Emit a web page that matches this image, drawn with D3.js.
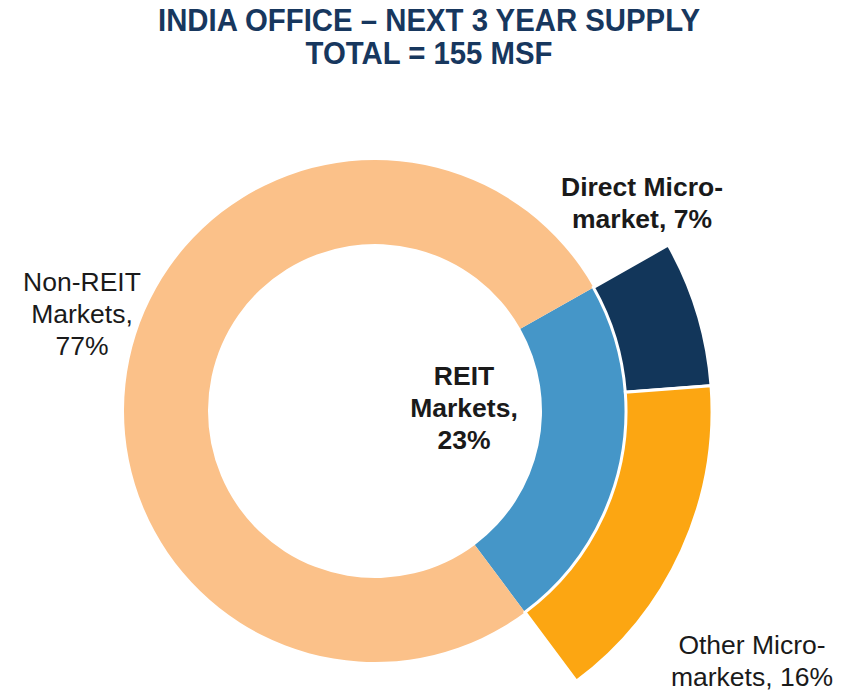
<!DOCTYPE html>
<html>
<head>
<meta charset="utf-8">
<script src="https://cdn.jsdelivr.net/npm/d3@7"></script>
<style>
  body { margin: 0; background: #fff; }
  svg { display: block; }
</style>
</head>
<body>
<script>
// Inner ring: REIT vs non-REIT share of supply
const innerNames = ["REIT Markets", "Non-REIT Markets"];
const innerValues = [23, 77];
const innerColors = ["#4596c8", "#fbc189"];

// Outer ring: split of the REIT share
const outerNames = ["Direct Micro-market", "Other Micro-markets"];
const outerValues = [7, 16];
const outerColors = ["#12365a", "#fca612"];

const titleLines = ["INDIA OFFICE \u2013 NEXT 3 YEAR SUPPLY", "TOTAL = 155 MSF"];
const titleWidths = [542, 247]; // narrow face isn't installed, squeeze to match

const width = 856, height = 692;
const cx = 375, cy = 411;
const rotate = 60.5 * Math.PI / 180;

const svg = d3.select("body")
  .append("svg")
  .attr("width", width)
  .attr("height", height);

// Title
svg.append("text")
  .attr("text-anchor", "middle")
  .attr("fill", "#17375e")
  .style("font-family", "'Liberation Sans Narrow', 'Arial Narrow', 'Liberation Sans', sans-serif")
  .style("font-weight", "bold")
  .style("font-size", "32px")
  .selectAll("tspan")
  .data(titleLines)
  .join("tspan")
  .attr("x", 429)
  .attr("y", (d, i) => 31 + i * 33)
  .attr("textLength", (d, i) => titleWidths[i])
  .attr("lengthAdjust", "spacingAndGlyphs")
  .text(d => d);

const g = svg.append("g").attr("transform", `translate(${cx},${cy})`);

const total = d3.sum(innerValues);

const innerPie = d3.pie().sort(null)
  .startAngle(rotate)
  .endAngle(rotate + 2 * Math.PI);

const innerArc = d3.arc().innerRadius(167).outerRadius(251);

g.selectAll("path.inner")
  .data(innerPie(innerValues))
  .join("path")
  .attr("class", "inner")
  .attr("d", innerArc)
  .attr("fill", (d, i) => innerColors[i]);

// outer ring covers only the REIT slice, same angular scale
const outerPie = d3.pie().sort(null)
  .startAngle(rotate)
  .endAngle(rotate + 2 * Math.PI * d3.sum(outerValues) / total);

const outerArc = d3.arc().innerRadius(251).outerRadius(337);

g.selectAll("path.outer")
  .data(outerPie(outerValues))
  .join("path")
  .attr("class", "outer")
  .attr("d", outerArc)
  .attr("fill", (d, i) => outerColors[i])
  .attr("stroke", "#fff")
  .attr("stroke-width", 3);

// Labels
const labels = [
  { lines: ["Non-REIT", "Markets,", innerValues[1] + "%"], x: 82, y: 291, bold: false },
  { lines: ["REIT", "Markets,", innerValues[0] + "%"], x: 464, y: 385, bold: true },
  { lines: ["Direct Micro-", "market, " + outerValues[0] + "%"], x: 642, y: 196, bold: true },
  { lines: ["Other Micro-", "markets, " + outerValues[1] + "%"], x: 752, y: 654, bold: false }
];

labels.forEach(l => {
  svg.append("text")
    .attr("text-anchor", "middle")
    .attr("fill", "#1a1a1a")
    .style("font-family", "'Liberation Sans', Arial, sans-serif")
    .style("font-size", "26.5px")
    .style("font-weight", l.bold ? "bold" : "normal")
    .selectAll("tspan")
    .data(l.lines)
    .join("tspan")
    .attr("x", l.x)
    .attr("y", (d, i) => l.y + i * 32)
    .text(d => d);
});
</script>
</body>
</html>
